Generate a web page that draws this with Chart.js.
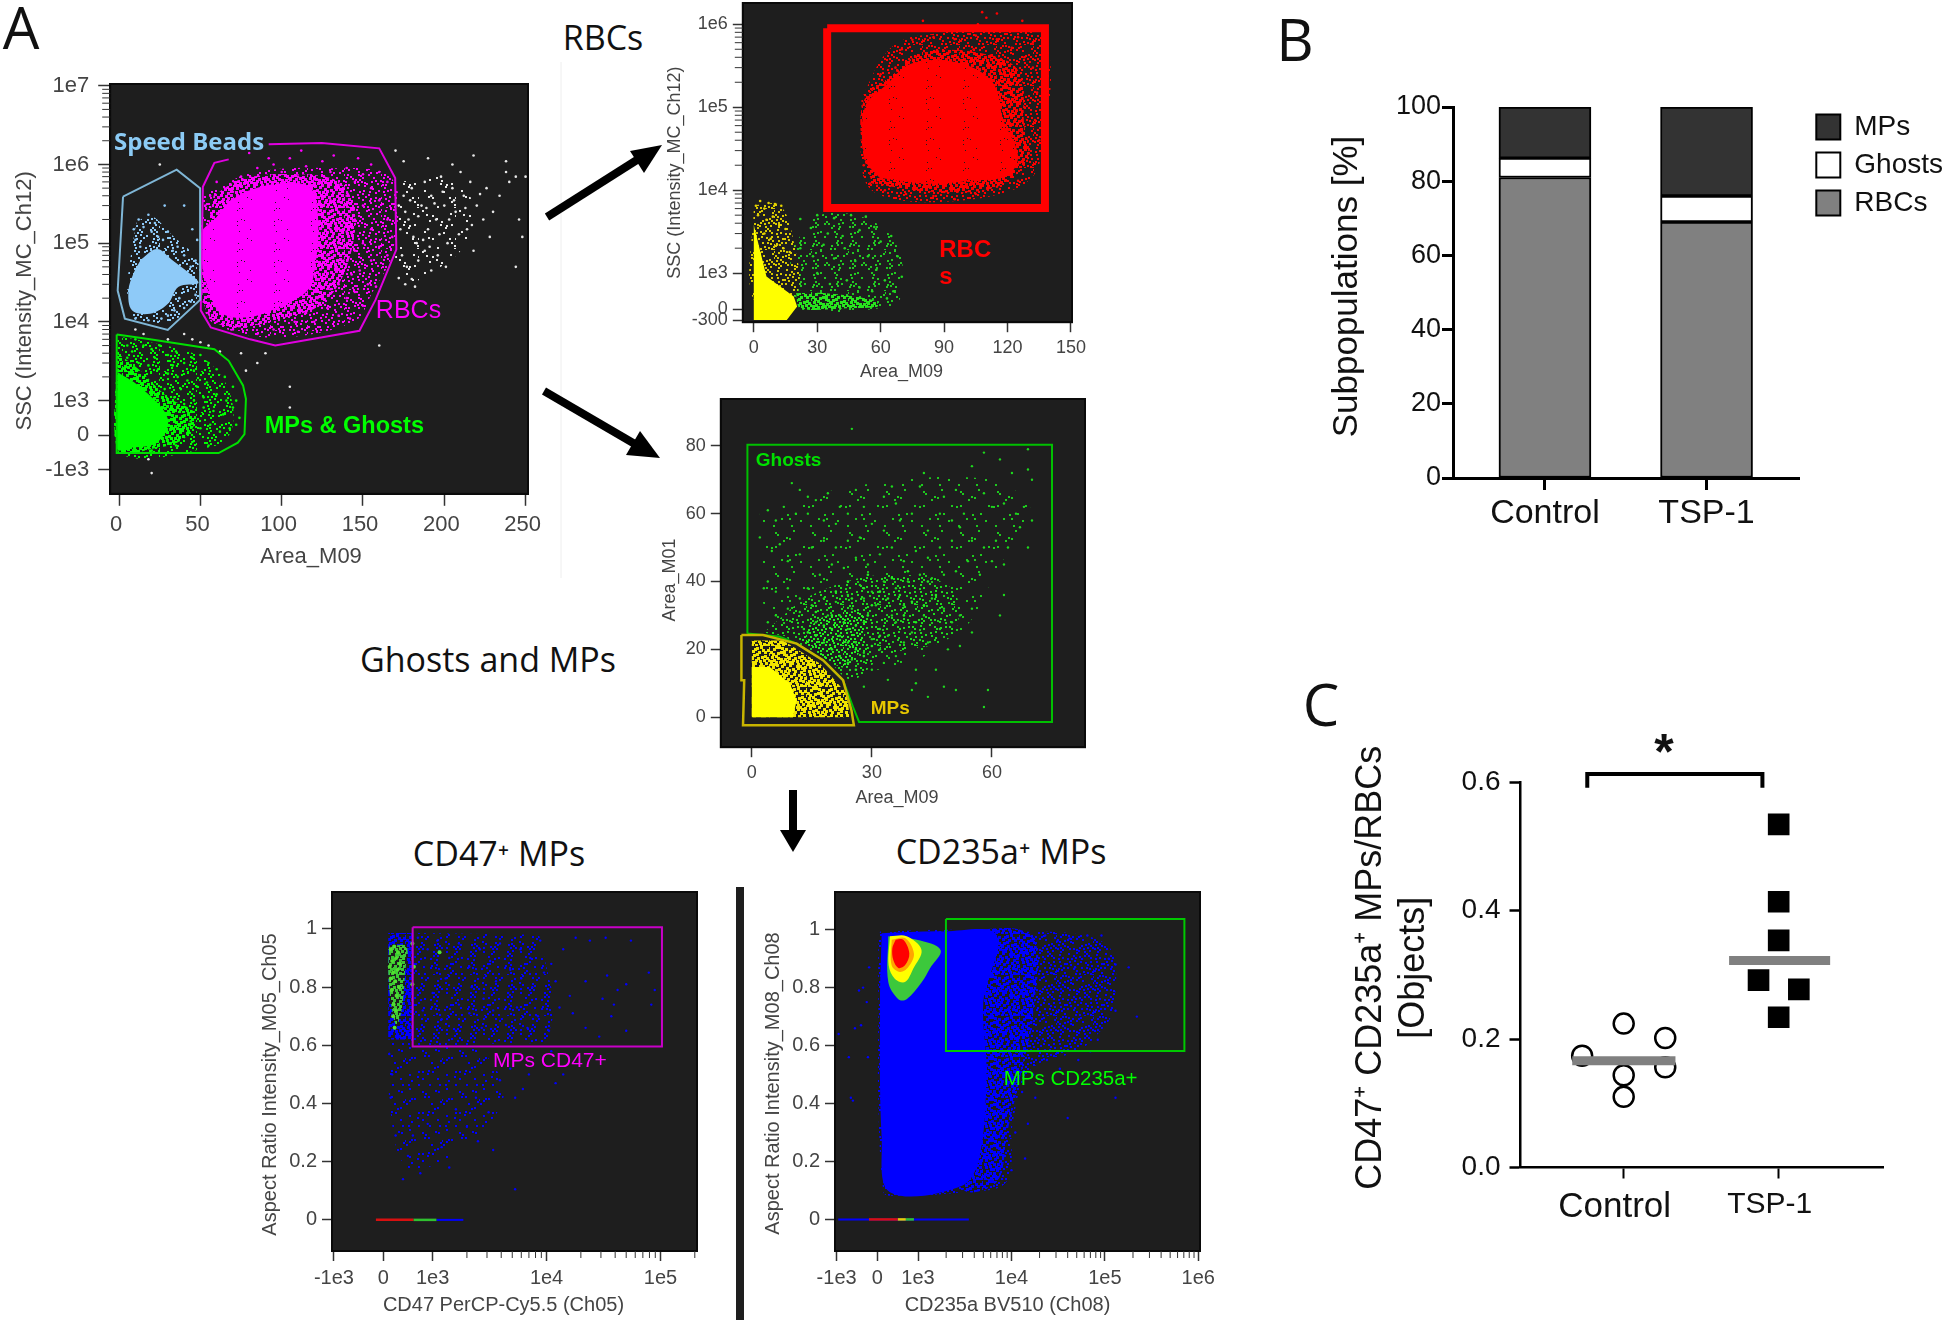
<!DOCTYPE html>
<html>
<head>
<meta charset="utf-8">
<title>Flow cytometry gating and MP subpopulations</title>
<script src="https://cdn.jsdelivr.net/npm/chart.js@4"></script>
<style>
html, body { margin: 0; padding: 0; background: #fff; }
body { position: relative; width: 1946px; height: 1322px; overflow: hidden; }
canvas { position: absolute; }
.cap { position: absolute; font-family: "Open Sans", sans-serif; color: #111; white-space: nowrap; transform: translate(-50%, -50%); }
.letter { font-size: 58px; }
.small { font-size: 34px; }
svg { position: absolute; left: 0; top: 0; }
</style>
</head>
<body>
<div class="cap letter" style="left:21px;top:26px">A</div>
<div class="cap letter" style="left:1295px;top:38px">B</div>
<div class="cap letter" style="left:1321px;top:703px">C</div>
<div class="cap small" style="left:603px;top:37px">RBCs</div>
<div class="cap small" style="left:488px;top:659px">Ghosts and MPs</div>
<div class="cap small" style="left:499px;top:853px">CD47⁺ MPs</div>
<div class="cap small" style="left:1001px;top:851px">CD235a⁺ MPs</div>
<div class="cap" style="left:1664px;top:752px;font:bold 50px 'Liberation Sans'">*</div>
<svg width="1946" height="1322">
  <line x1="561" y1="62" x2="561" y2="578" stroke="#eeeeee" stroke-width="1"/>
  <rect x="736" y="887" width="8" height="433" fill="#1e1e1e"/>
  <line x1="547" y1="217" x2="640" y2="158" stroke="#000" stroke-width="8"/>
  <polygon points="662,145 644,173 630,151" fill="#000"/>
  <line x1="544" y1="391" x2="640" y2="447" stroke="#000" stroke-width="8"/>
  <polygon points="660,458 640,431 626,455" fill="#000"/>
  <rect x="789" y="790" width="8" height="42" fill="#000"/>
  <polygon points="793,852 780,830 806,830" fill="#000"/>
</svg>

<script>
// panel B
const barCategories = ['Control', 'TSP-1'];
const rbcPercent = [81, 69];
const ghostPercent = [5.2, 7];
const mpPercent = [13.8, 24];

// panel C
const controlRatios = [[0, 0.224], [0.268, 0.2015], [-0.268, 0.174], [0.268, 0.156], [0, 0.1436], [0, 0.11]];
const tspRatios = [[0, 0.534], [0, 0.4136], [0, 0.3534], [-0.13, 0.2917], [0.13, 0.2772], [0, 0.2338]];
const controlMean = 0.166;
const tspMean = 0.322;

// panel A, first plot: gates
const beadGate = [[2.4,3.9e5],[35.4,8.6e5],[49.8,5e5],[49.8,1.9e4],[29.9,7.9e3],[3.5,1.1e4],[-0.9,2.5e4],[2.4,3.9e5]];
const rbcGate = [[67.4,1.16e6],[58.6,1.05e6],[51.5,5.2e5],[50.2,1.4e4],[56.4,8.5e3],[80.6,6e3],[96,5e3],[147.8,7.7e3],[157.7,1.9e4],[170.5,8.3e4],[169.8,6.7e5],[160,1.6e6],[124.7,1.87e6],[92,1.8e6]];
const mpGhostGate = [[-1.5,6.9e3],[19,6e3],[58.6,4.5e3],[67.4,3.2e3],[76.2,1.56e3],[78,1.05e3],[77.1,30],[73,-220],[61.2,-520],[-1.5,-520],[-1.5,6.9e3]];
// dense areas
const rbcCore = [[67.4,3.4e5],[80.6,4.75e5],[102.6,5.8e5],[118,5e5],[122.5,1.85e5],[120.3,4.6e4],[115.9,2.5e4],[102.6,1.7e4],[80.6,1.15e4],[63,1.27e4],[56.4,2.1e4],[50.9,5.6e4],[50.9,1.4e5],[58.6,2e5]];
const rbcMid = [[58,4e5],[75,6.5e5],[110,7.5e5],[135,6e5],[145,2.5e5],[140,5e4],[125,1.7e4],[100,1.1e4],[70,8.5e3],[55,1.2e4],[51,4e4]];
const rbcHaze = [[60.8,5e5],[80.6,7.8e5],[124.7,9e5],[167.6,6.7e5],[168.7,8.3e4],[155.4,2.3e4],[144.4,1e4],[96,6.3e3],[58.6,9.4e3],[52,1.7e4],[52,4.1e5]];
const beadCore = [[13.4,6.2e4],[23.3,8.4e4],[32.2,6.2e4],[45.4,3.8e4],[48.7,3.1e4],[36.6,2.8e4],[30,1.7e4],[19,1.27e4],[7.9,1.4e4],[5.7,2.5e4],[9,4.2e4]];
const beadHaze = [[11,1.9e5],[20,2.2e5],[32,1.3e5],[48,6e4],[49,2e4],[30,1e4],[8,1.2e4],[5,2.5e4],[8,9e4]];
const mpCore = [[-0.9,2.3e3],[14.5,1.4e3],[30,466],[23.3,-220],[5.7,-370],[-0.9,-420]];
const mpMid = [[-1,4e3],[12,2.5e3],[30,1.1e3],[47,600],[40,-100],[20,-400],[-1,-450]];
const mpHaze = [[-1,6.5e3],[19,5.5e3],[50,3.6e3],[66,1.6e3],[70,300],[60,-300],[-1,-450]];
const scatterHaze = [[172,6e5],[200,7e5],[215,5e5],[213,1e5],[190,4e4],[172,3e4]];
// single events
const beadDots = [[12,2e5],[15,1.6e5],[18,2.3e5],[20,1.4e5],[22,1.8e5],[24,1.2e5],[27,1.1e5],[30,1.4e5],[33,8e4],[36,9e4],[40,7e4],[44,5e4],[47,6e4],[48,1.1e5],[40,3e5],[28,3e5],[45,1.5e5],[10,1.1e5],[13,9e4],[9,1.5e5],[37,2e4],[40,1.5e4],[44,1.8e4],[34,1.4e4],[30,1.2e4],[26,1.1e4],[18,1.05e4],[10,1.1e4],[47,2.2e4]];
const rbcDots = [[60,6e5],[70,4.5e5],[75,7e5],[85,9e5],[90,6.5e5],[95,1e6],[100,8e5],[105,1.2e6],[110,7e5],[115,9.5e5],[120,6.5e5],[125,1.1e6],[130,8e5],[135,5.5e5],[140,9e5],[145,6e5],[150,7.5e5],[155,5e5],[160,8e5],[165,6e5],[130,3.5e5],[135,2.5e5],[140,4e5],[145,2e5],[150,3e5],[155,1.5e5],[160,3.5e5],[165,2e5],[168,1.2e5],[130,1.5e5],[135,1e5],[140,1.4e5],[145,8e4],[150,1e5],[155,6e4],[160,9e4],[165,7e4],[128,7e4],[133,5e4],[138,6e4],[143,4e4],[148,4.5e4],[153,3e4],[158,2.8e4],[125,3.5e4],[130,2.6e4],[135,3e4],[140,2e4],[145,2.4e4],[150,1.6e4],[122,2e4],[128,1.5e4],[135,1.2e4],[142,1.1e4],[115,1.3e4],[120,1e4],[108,1e4],[110,7.5e3],[95,8e3],[85,7e3],[70,8e3],[60,1e4],[55,1.3e4],[52,1.8e4],[53,3e5],[56,4e5],[65,3e5],[92,1.2e6],[112,1.5e6],[80,1.4e6],[132,1.3e6],[147,1.2e6],[155,1e6]];
const scatterDots = [[172,3e5],[175,4e5],[178,2e5],[180,5e5],[183,1e5],[186,3e5],[188,6e5],[190,1.5e5],[192,4e5],[195,2e5],[198,7e5],[200,3e5],[202,1e5],[205,5e5],[207,2.5e5],[210,8e5],[212,4e5],[214,1.5e5],[216,6e5],[220,3e5],[224,2e5],[226,5e5],[230,2.5e5],[234,4e5],[238,8e5],[240,6e5],[244,7e5],[246,2e5],[250,7e5],[174,7e4],[177,5e4],[180,3.5e4],[184,6e4],[188,8e4],[192,4.5e4],[196,7e4],[201,5e4],[218,8e4],[228,1.2e5],[244,5e4],[248,1.2e5],[173,1.5e5],[176,2.5e5],[179,3.5e5],[181,1.2e5],[184,2.2e5],[187,1.1e5],[189,2.8e5],[191,9e4],[194,3.2e5],[197,1.3e5],[199,4.5e5],[203,2e5],[206,3.5e5],[209,1.3e5],[213,2.8e5],[217,1.7e5],[222,4.2e5],[172,3.6e4],[176,3e4],[182,2.8e4],[170,1.5e6],[175,1.1e6],[190,1.2e6],[205,1e6],[218,1.3e6],[238,1.1e6],[18,-700],[20,-1100],[105,1.5e3],[105,800],[160,5e3],[40,7e3],[10,8e3],[15,7e3],[30,6e3],[45,6e3],[50,5.5e3],[55,5e3],[62,4.2e3],[75,4e3],[85,3e3],[78,2.4e3],[25,1e6],[90,4e3]];
const mpGhostDots = [[5,5e3],[10,6e3],[15,5e3],[20,4.5e3],[25,5e3],[30,3.8e3],[35,4.2e3],[40,3e3],[45,3.5e3],[50,3.8e3],[55,3e3],[60,2.5e3],[65,2e3],[70,1.5e3],[72,1e3],[5,3.5e3],[12,3e3],[18,2.8e3],[24,2.5e3],[30,2.2e3],[36,2e3],[42,1.8e3],[48,1.5e3],[54,1.7e3],[60,1.2e3],[28,1.4e3],[34,1.1e3],[40,900],[46,1e3],[52,800],[58,700],[64,600],[70,800],[72,300],[68,200],[62,100],[56,300],[50,200],[44,400],[38,100],[32,-100],[28,500],[35,-300],[45,-200],[55,-300],[20,-450],[8,4.2e3],[22,3.5e3],[33,2.8e3],[46,2.4e3],[38,1.4e3],[52,1.1e3],[66,1e3],[74,500]];

// panel A, RBC plot
const rbcBoxGate = [[34.7,8.95e5],[137.7,8.95e5],[137.7,6.1e3],[34.7,6.1e3],[34.7,8.95e5]];
const redCore = [[59.6,1.4e4],[52.5,2.4e4],[52.5,1e5],[62,1.8e5],[75,3.4e5],[97.5,3.4e5],[113,2e5],[118,7e4],[125,2.6e4],[120,1.5e4],[103.8,1.3e4],[81.7,1.2e4]];
const redMid = [[56,1.2e4],[51.5,3e4],[52,1.2e5],[66,2.5e5],[80,4.5e5],[105,4.6e5],[125,2.8e5],[128,6e4],[130,2.5e4],[115,1.1e4],[85,9.5e3]];
const redHaze = [[50.9,1.26e5],[62.8,4.6e5],[77,7.2e5],[135.3,7.2e5],[135.3,2.2e4],[124.3,1.05e4],[88,7.2e3],[59.6,8.7e3],[51.7,1.5e4]];
const redDots = [[70,5e5],[75,6.5e5],[85,7e5],[95,6.6e5],[105,7.3e5],[115,6.6e5],[125,7e5],[132,6e5],[128,4e5],[120,3.5e5],[132,3e5],[125,2e5],[118,2.5e5],[134,1.5e5],[128,1e5],[121,8e4],[133,7e4],[127,5e4],[135,4e4],[130,2.8e4],[125,1.3e4],[115,1.1e4],[105,9e3],[95,7.8e3],[85,8.5e3],[72,9e3],[62,1e4],[55,1.2e4],[52,4e4],[53,8e4],[52,2e4],[90,9.5e3],[100,1.1e4],[60,2.5e5],[67,3e5],[72,3.5e5],[110,1.2e6],[108,1.4e6],[115,1.35e6],[127,1.1e6],[80,1.1e6],[106,1e6],[92,4.5e5],[104,5e5],[112,4.2e5],[122,5.2e5]];
const lowYellowCore = [[0,3.8e3],[6,907],[18.9,352],[20.5,74],[15.6,-296],[0,-296]];
const lowYellowHaze = [[0,6.6e3],[12.3,6.6e3],[18.6,2.6e3],[20.2,444],[0,259]];
const lowGreenCore = [[20,444],[34,444],[56,259],[59,80],[44,30],[22,30]];
const lowGreenHaze = [[17,1.8e3],[31.2,5e3],[56.5,4.2e3],[69,1.8e3],[69,259],[59.6,28],[24.9,-65],[18.6,444]];
const lowGreenDots = [[22,4.5e3],[27,3.5e3],[30,5e3],[35,3e3],[38,4.6e3],[42,2.8e3],[46,5e3],[50,3.3e3],[53,4.8e3],[57,3.6e3],[60,2.4e3],[65,2.8e3],[68,1.6e3],[70,900],[22,2e3],[28,1.6e3],[33,2.2e3],[38,1.5e3],[43,2e3],[48,1.4e3],[54,1.6e3],[58,1.1e3],[62,800],[66,500],[30,1e3],[36,700],[44,800],[50,600],[56,500],[63,300]];
const lowYellowDots = [[1,6.5e3],[3,7.4e3],[5,6e3],[7,7e3],[10,6.8e3],[13,6.5e3],[2,5e3],[6,4.4e3],[9,4.8e3],[12,3.8e3],[15,3.4e3],[5,3e3],[8,2.6e3],[11,2.2e3],[14,2e3],[17,1.8e3]];

// panel A, Area_M01 plot
const ghostGate = [[-1.1,24.7],[-1.1,80.3],[75,80.3],[75,-1.4],[26.8,-1.4],[25.3,3],[22.8,10.9],[17.8,16.8],[11.2,21.7],[7,23.7],[2.8,24.2],[-1.1,24.7]];
const mpGate = [[-2.6,24.2],[2.8,24.2],[11.2,21.7],[17.8,16.8],[22.8,10.9],[24.9,2],[25.5,-2.4],[-2.2,-2.4],[-1.9,10.9],[-2.6,10.9],[-2.6,24.2]];
const mpYellowCore = [[0,14.8],[4.5,14.8],[9.5,9.9],[11.2,5],[10.3,0],[0,0]];
const mpYellowHaze = [[0,22.6],[7.8,22.6],[17,15.8],[23.7,7],[24.5,0],[0,0]];
const ghostDense = [[12,23.1],[17.8,29.5],[27.8,30.5],[27.8,21.7],[23.7,14.8],[20.3,15.8],[14.5,20.7]];
const ghostHaze = [[3,25],[15,36],[33,42],[50,38],[50,24],[33,18],[25,11],[18,18],[11,23]];
const ghostWide = [[2,60],[25,68],[60,70],[70,60],[62,45],[52,25],[30,14],[5,28]];
const ghostDots = [[4,61],[6,58],[2,53],[5,49],[10,69],[12,67],[14,65],[16,64],[19,66],[22,62],[26,67],[8,62],[11,60],[14,60],[18,58],[21,57],[24,60],[28,62],[33,65],[36,63],[35,68],[43,72],[42,68],[48,65],[51,67],[55,74],[58,78],[62,76],[65,72],[69,79],[69,73],[70,70],[60,62],[63,63],[66,60],[68,62],[70,58],[58,66],[53,60],[50,58],[47,60],[44,55],[40,60],[37,58],[33,55],[30,57],[27,53],[24,52],[21,50],[18,52],[15,50],[12,48],[9,46],[7,51],[4,40],[3,38],[6,37],[9,38],[12,35],[14,38],[17,42],[20,45],[23,44],[26,47],[29,45],[32,48],[35,50],[38,46],[41,49],[44,47],[47,50],[50,52],[52,56],[55,52],[58,50],[61,52],[64,50],[67,56],[69,50],[63,45],[60,46],[57,42],[54,46],[51,43],[48,42],[45,41],[42,42],[39,40],[36,38],[33,40],[30,37],[27,39],[24,36],[21,34],[18,35],[15,33],[12,31],[9,32],[6,30],[4,28],[52,30],[55,25],[48,32],[50,28],[45,35],[43,30],[40,25],[47,26],[44,22],[49,20],[52,21],[38,22],[36,18],[33,16],[30,14],[28,9],[34,11],[40,8],[41,10],[44,6],[48,9],[51,8],[58,3],[59,8],[46,14],[41,14],[63,36],[62,30],[55,32],[38,33],[35,30],[31,33],[28,35],[25,32],[22,30],[19,30],[16,28],[13,26],[28,28],[32,26],[36,28],[24,26],[26,22],[30,23],[34,24],[28,19],[32,20],[25,17],[25,85]];
const ghostDenseDots = [[14,25],[16,24],[18,22],[20,20],[22,18],[24,16],[26,14],[18,27],[20,26],[22,24],[24,22],[26,20],[28,18],[30,21],[32,24],[20,30],[23,28],[26,27],[29,30],[16,31],[30,33],[34,35],[37,36],[40,34],[43,33],[46,36],[38,30],[41,28],[25,35],[21,37],[28,38],[32,37],[35,41],[29,42],[24,40],[39,43],[44,40]];

// panel A, CD47 plot
const cd47Gate = [[595,1.006],[1.03e5,1.006],[1.03e5,0.596],[595,0.596],[595,1.006]];
const cd47Strip = [[100,0.986],[608,0.986],[608,0.62],[100,0.62]];
const cd47Cluster = [[120,0.94],[470,0.94],[440,0.85],[380,0.73],[270,0.67],[170,0.73],[100,0.85]];
const cd47Tail = [[135,0.62],[2e3,0.62],[4.2e3,0.424],[1.42e3,0.218],[473,0.183],[135,0.39]];
const cd47Haze = [[608,0.986],[8.6e3,0.98],[1.2e4,0.734],[1e4,0.608],[608,0.602]];
const cd47Dots = [[700,0.97],[900,0.93],[1.1e3,0.96],[1.4e3,0.9],[1.7e3,0.95],[2.1e3,0.87],[2.6e3,0.93],[3.2e3,0.89],[3.9e3,0.95],[4.8e3,0.86],[5.9e3,0.93],[7.2e3,0.9],[8.8e3,0.96],[1.1e4,0.88],[1.4e4,0.93],[1.8e4,0.97],[2.4e4,0.96],[3.3e4,0.97],[5.5e4,0.96],[7.9e4,0.85],[8.9e4,0.79],[8.3e4,0.74],[5e4,0.81],[3.4e4,0.84],[4.2e4,0.79],[3.1e4,0.76],[2.2e4,0.82],[1.6e4,0.77],[1.2e4,0.82],[9.5e3,0.85],[7.5e3,0.8],[6e3,0.83],[4.6e3,0.78],[3.6e3,0.82],[2.8e3,0.76],[2.2e3,0.8],[1.7e3,0.74],[1.3e3,0.83],[1e3,0.78],[800,0.72],[1.2e3,0.69],[1.6e3,0.65],[2.1e3,0.71],[2.7e3,0.66],[3.4e3,0.72],[4.4e3,0.67],[5.5e3,0.73],[6.8e3,0.66],[8.4e3,0.7],[1.05e4,0.65],[1.3e4,0.73],[1.7e4,0.71],[2.2e4,0.66],[2.9e4,0.63],[3.7e4,0.7],[5e4,0.65],[3.9e4,0.74],[1.1e4,0.58],[1.4e4,0.5],[1.2e4,0.47],[6.2e3,0.45],[7e3,0.5],[4.8e3,0.52],[5.3e3,0.42],[3.9e3,0.48],[3.1e3,0.37],[2.4e3,0.42],[2e3,0.32],[1.6e3,0.38],[2.5e3,0.27],[3.4e3,0.24],[1.2e3,0.25],[900,0.33],[600,0.29],[500,0.22],[750,0.16],[1.4e3,0.18],[5.3e3,0.105],[400,0.14],[250,0.29],[150,0.42],[120,0.57],[180,0.5]];
const cd47GreenDots = [[150,0.93],[220,0.94],[300,0.92],[180,0.89],[260,0.9],[340,0.88],[130,0.87],[200,0.85],[290,0.86],[150,0.83],[240,0.82],[320,0.8],[170,0.79],[270,0.77],[210,0.74],[260,0.72],[200,0.7],[230,0.66],[590,0.95],[620,0.87],[1.15e3,0.92],[590,0.81]];
const cd47ZeroBlue = [[1.08e3,0],[1.86e3,0]];
const cd47ZeroGreen = [[610,0],[1.08e3,0]];
const cd47ZeroRed = [[-150,0],[610,0]];

// panel A, CD235a plot
const cd235Gate = [[1990,1.037],[7.1e5,1.037],[7.1e5,0.581],[1990,0.581],[1990,1.037]];
const cd235Solid = [[107,0.988],[1860,0.994],[6.9e3,0.982],[5e3,0.749],[5.4e3,0.515],[4.6e3,0.222],[3e3,0.117],[311,0.094],[107,0.281],[66,0.749]];
const cd235Mid = [[1860,0.99],[1.6e4,0.98],[1.7e4,0.7],[1.3e4,0.52],[9e3,0.3],[7e3,0.13],[3e3,0.11]];
const cd235Haze = [[66,0.994],[1860,1],[1.13e4,0.994],[5.8e4,0.982],[1.2e5,0.924],[1.2e5,0.713],[8e4,0.632],[5.4e4,0.585],[1.57e4,0.515],[1.04e4,0.339],[8.8e3,0.129],[3e3,0.094],[311,0.082],[150,0.094],[25,0.398],[25,0.749],[25,0.936]];
const cd235Green = [[270,0.977],[970,0.965],[1745,0.93],[1340,0.866],[1100,0.819],[721,0.76],[516,0.76],[270,0.819]];
const cd235Yellow = [[311,0.977],[721,0.977],[1090,0.93],[885,0.866],[680,0.819],[434,0.83],[279,0.877]];
const cd235Orange = [[352,0.965],[680,0.971],[900,0.918],[762,0.871],[557,0.854],[352,0.877]];
const cd235Red = [[451,0.965],[639,0.965],[787,0.918],[680,0.877],[516,0.868],[393,0.895],[369,0.936]];
const cd235Dots = [[1.3e4,0.99],[1.7e4,0.97],[2.3e4,0.98],[3.1e4,0.96],[4.2e4,0.97],[6.5e4,0.98],[9.2e4,0.98],[1.1e5,0.9],[1.3e5,0.88],[1.8e5,0.87],[2.2e5,0.7],[1.3e5,0.72],[8.4e4,0.62],[5.2e4,0.55],[3.3e4,0.52],[2.4e4,0.55],[1.7e4,0.5],[1.8e4,0.42],[1.3e4,0.44],[1.5e4,0.33],[1.1e4,0.3],[1.4e4,0.21],[1e4,0.17],[-650,0.42],[-600,0.41],[-700,0.56],[-230,0.56],[-550,0.66],[-400,0.67],[-260,0.75],[-350,0.8],[-450,0.79],[-200,0.87],[-950,0.64],[4e4,0.35],[1.3e5,0.42],[7e4,0.58],[1.2e4,0.6],[2.7e4,0.85],[4.8e4,0.87]];
const cd235ZeroBlue = [[-960,0],[3.5e3,0]];
const cd235ZeroGreen = [[700,0],[900,0]];
const cd235ZeroYellow = [[500,0],[700,0]];
const cd235ZeroRed = [[-205,0],[500,0]];

const decadeSteps = [2, 3, 4, 5, 6, 7, 8, 9];

// speckle texture for the density regions, offsets inside a 37x41 tile
const tileDots = [[3,2],[11,1],[19,4],[27,0],[34,3],[7,6],[15,8],[23,7],[31,9],[1,10],[10,12],[18,11],[26,14],[35,13],[5,15],[13,17],[21,16],[29,19],[2,20],[8,22],[16,21],[24,24],[33,23],[6,26],[12,27],[20,29],[28,28],[36,30],[3,31],[10,33],[17,32],[25,35],[32,34],[0,36],[7,38],[14,37],[22,39],[30,38],[35,40],[4,40],
    [8,0],[15,2],[23,1],[31,5],[0,5],[5,9],[13,4],[20,8],[28,10],[36,7],[3,13],[9,15],[16,14],[24,11],[32,16],[0,17],[11,19],[19,18],[27,21],[34,20],[5,23],[14,24],[22,22],[30,25],[2,27],[9,29],[17,26],[25,31],[33,27],[6,33],[13,30],[21,34],[29,33],[36,35],[1,34],[11,36],[18,39],[26,37],[33,39],[8,40],
    [5,0],[13,7],[21,2],[29,3],[36,1],[2,7],[10,5],[17,10],[25,5],[33,11],[7,11],[14,12],[22,13],[30,13],[0,14],[6,18],[12,14],[19,15],[27,17],[36,18],[3,17],[10,24],[18,23],[26,19],[31,21],[1,24],[7,29],[15,28],[23,27],[30,30],[4,35],[12,39],[19,36],[27,40],[35,37],[9,36],[16,34],[24,33],[34,31],[1,39]];

function stipple(color, n, size, holes) {
    const tile = document.createElement('canvas');
    tile.width = 37;
    tile.height = 41;
    const c = tile.getContext('2d');
    if (holes) {
        c.fillStyle = color;
        c.fillRect(0, 0, 37, 41);
    }
    c.fillStyle = holes ? '#1e1e1e' : color;
    // take the offsets evenly along the list so small counts do not leave bands
    for (let i = 0; i < n; i++) {
        const p = tileDots[Math.floor(i * tileDots.length / n)];
        c.fillRect(p[0], p[1], size, size);
    }
    return c.createPattern(tile, 'repeat');
}

// the cytometer axes are linear up to 1e3, log above
function biex(v, k) {
    return v <= 1000 ? v / 1000 : 1 + k * Math.log10(v / 1000);
}

function minorsOf(decades, k) {
    const out = [];
    decades.forEach(d => decadeSteps.forEach(s => out.push(biex(d * s, k))));
    return out;
}

function addCanvas(left, top, right, bottom) {
    const c = document.createElement('canvas');
    c.width = Math.round(right - left);
    c.height = Math.round(bottom - top);
    c.style.left = left + 'px';
    c.style.top = top + 'px';
    document.body.appendChild(c);
    return c;
}

// moves the native axis title, the source titles are not centred on the axis
function shiftTitle(scale, dx, dy) {
    if (scale.shifted) return;
    scale.shifted = true;
    const orig = scale.drawTitle;
    scale.drawTitle = function() {
        const ctx = scale.ctx;
        ctx.save();
        ctx.translate(dx, dy);
        orig.call(scale);
        ctx.restore();
    };
}

function frame(conf) {
    return {
        id: 'frame',
        beforeDraw(chart) {
            const { ctx, chartArea: a } = chart;
            ctx.save();
            ctx.fillStyle = '#1e1e1e';
            ctx.fillRect(a.left, a.top, a.right - a.left, a.bottom - a.top);
            ctx.restore();
        },
        afterDraw(chart) {
            const { ctx, chartArea: a, scales } = chart;
            ctx.save();
            ctx.strokeStyle = '#0a0a0a';
            ctx.lineWidth = 2;
            ctx.strokeRect(a.left, a.top, a.right - a.left, a.bottom - a.top);
            ctx.strokeStyle = '#333';
            ctx.lineWidth = 1;
            (conf.minorX || []).forEach(v => {
                const x = scales.x.getPixelForValue(v);
                ctx.beginPath(); ctx.moveTo(x, a.bottom); ctx.lineTo(x, a.bottom + 7); ctx.stroke();
            });
            (conf.minorY || []).forEach(v => {
                const y = scales.y.getPixelForValue(v);
                ctx.beginPath(); ctx.moveTo(a.left, y); ctx.lineTo(a.left - 8, y); ctx.stroke();
            });
            (conf.labels || []).forEach(l => {
                ctx.font = l.font;
                ctx.fillStyle = l.color;
                ctx.textAlign = l.align || 'center';
                ctx.textBaseline = 'middle';
                ctx.fillText(l.text, scales.x.getPixelForValue(conf.tx(l.x)), scales.y.getPixelForValue(conf.ty(l.y)));
            });
            ctx.restore();
        }
    };
}

function flowPlot(conf) {
    const a = conf.area, pad = 40, fs = conf.fontSize;
    const canvas = addCanvas(conf.yTitleX - 0.6 * fs, a.top - pad, a.right + pad, conf.xTitleY + 0.6 * fs);
    const font = { family: 'Liberation Sans', size: fs };
    const axisBits = {
        grid: { drawOnChartArea: false, tickLength: conf.tickLen, tickColor: '#333', tickWidth: 1.5 },
        border: { color: '#0a0a0a', width: 2 },
        title: { display: true, font: font, color: '#444', padding: 0 }
    };
    const datasets = conf.sets.map(s => {
        const pts = s.fill ? s.pts.concat([s.pts[0]]) : s.pts;
        const d = {
            data: pts.map(p => ({ x: conf.tx(p[0]), y: conf.ty(p[1]) })),
            pointRadius: 0,
            borderWidth: 0,
            showLine: false
        };
        if (s.fill) {
            d.showLine = true;
            d.fill = 'shape';
            d.backgroundColor = s.fill;
            d.borderColor = 'transparent';
            d.tension = s.sharp ? 0 : 0.35;
        }
        if (s.line) { d.showLine = true; d.borderColor = s.line; d.borderWidth = s.width || 2; d.borderJoinStyle = 'miter'; d.fill = false; }
        if (s.dot) { d.pointRadius = s.r || 1.3; d.pointBackgroundColor = s.dot; d.pointBorderWidth = 0; }
        return d;
    });
    return new Chart(canvas, {
        type: 'scatter',
        data: { datasets: datasets },
        options: {
            responsive: false,
            animation: false,
            layout: { padding: { top: pad, right: pad } },
            plugins: { legend: { display: false }, tooltip: { enabled: false } },
            scales: {
                x: Object.assign({}, axisBits, {
                    type: 'linear', min: conf.xMin, max: conf.xMax,
                    title: Object.assign({}, axisBits.title, { text: conf.xTitle }),
                    afterBuildTicks: s => { s.ticks = conf.xTicks.map(v => ({ value: conf.tx(v) })); },
                    afterFit: s => { s.height = conf.xTitleY + 0.6 * fs - a.bottom; shiftTitle(s, conf.xTitleDx, 0); },
                    ticks: { font: font, color: '#444', padding: conf.xPad, labelOffset: conf.xLabelDx || 0, autoSkip: false, maxRotation: 0, callback: (v, i) => conf.xLabels[i] }
                }),
                y: Object.assign({}, axisBits, {
                    type: 'linear', min: conf.yMin, max: conf.yMax,
                    title: Object.assign({}, axisBits.title, { text: conf.yTitle }),
                    afterBuildTicks: s => { s.ticks = conf.yTicks.map(v => ({ value: conf.ty(v) })); },
                    afterFit: s => { s.width = a.left - (conf.yTitleX - 0.6 * fs); shiftTitle(s, 0, conf.yTitleDy); },
                    ticks: { font: font, color: '#444', padding: conf.yPad, autoSkip: false, callback: (v, i) => conf.yLabels[i] }
                })
            }
        },
        plugins: [frame(conf)]
    });
}

const same = v => v;

flowPlot({
    area: { left: 110, right: 527.5, top: 83.6, bottom: 493 },
    yTitleX: 25, xTitleY: 556, xTitleDx: -8, yTitleDy: 12, fontSize: 22, tickLen: 12, xPad: 6, yPad: 9, xLabelDx: -3,
    xMin: -5.5, xMax: 251.5, yMin: -1.7, yMax: 10.17,
    tx: same, ty: v => biex(v, 2.28),
    xTicks: [0, 50, 100, 150, 200, 250], xLabels: ['0', '50', '100', '150', '200', '250'],
    yTicks: [1e7, 1e6, 1e5, 1e4, 1e3, 0, -1e3], yLabels: ['1e7', '1e6', '1e5', '1e4', '1e3', '0', '-1e3'],
    minorY: minorsOf([1e3, 1e4, 1e5, 1e6], 2.28),
    xTitle: 'Area_M09', yTitle: 'SSC (Intensity_MC_Ch12)',
    labels: [
        { text: 'Speed Beads', x: 43, y: 1.85e6, color: '#8ccbf5', font: 'bold 24px "Open Sans"' },
        { text: 'RBCs', x: 178, y: 1.37e4, color: '#ff00ff', font: '25px "Liberation Sans"' },
        { text: 'MPs & Ghosts', x: 138.5, y: 252, color: '#00ff00', font: 'bold 23.5px "Liberation Sans"' }
    ],
    sets: [
        { pts: beadGate, line: '#7fb6d6' },
        { pts: rbcGate, line: '#e000e0' },
        { pts: mpGhostGate, line: '#00e000' },
        { pts: scatterDots, dot: '#e8e8e8' },
        { pts: rbcDots, dot: '#ff00ff' },
        { pts: beadDots, dot: '#8ecaf8' },
        { pts: mpGhostDots, dot: '#00ff00' },
        { pts: rbcCore, fill: stipple('#ff00ff', 12, 1, true) },
        { pts: rbcMid, fill: stipple('#ff00ff', 120, 3) },
        { pts: rbcHaze, fill: stipple('#ff00ff', 80, 2) },
        { pts: scatterHaze, fill: stipple('#e8e8e8', 22, 2) },
        { pts: beadCore, fill: '#8ecaf8' },
        { pts: beadHaze, fill: stipple('#8ecaf8', 70, 2) },
        { pts: mpCore, fill: '#00ff00' },
        { pts: mpMid, fill: stipple('#00ff00', 120, 3) },
        { pts: mpHaze, fill: stipple('#00ff00', 70, 2) }
    ]
});

flowPlot({
    area: { left: 743, right: 1072, top: 3.3, bottom: 322 },
    yTitleX: 675, xTitleY: 372, xTitleDx: -6, yTitleDy: 10, fontSize: 18, tickLen: 10, xPad: 5, yPad: 5,
    xMin: -5.2, xMax: 150.5, yMin: -0.36, yMax: 8.49,
    tx: same, ty: v => biex(v, 2.3),
    xTicks: [0, 30, 60, 90, 120, 150], xLabels: ['0', '30', '60', '90', '120', '150'],
    yTicks: [1e6, 1e5, 1e4, 1e3, 0, -300], yLabels: ['1e6', '1e5', '1e4', '1e3', '0', '-300'],
    minorY: minorsOf([1e3, 1e4, 1e5], 2.3),
    xTitle: 'Area_M09', yTitle: 'SSC (Intensity_MC_Ch12)',
    labels: [
        { text: 'RBC', x: 87.7, y: 1.9e3, color: '#ff0000', font: 'bold 24px "Liberation Sans"', align: 'left' },
        { text: 's', x: 87.7, y: 880, color: '#ff0000', font: 'bold 24px "Liberation Sans"', align: 'left' }
    ],
    sets: [
        { pts: rbcBoxGate, line: '#ff0000', width: 8 },
        { pts: redDots, dot: '#ff0000' },
        { pts: lowGreenDots, dot: '#22d822' },
        { pts: lowYellowDots, dot: '#e6d400' },
        { pts: lowYellowCore, fill: '#ffff00', sharp: true },
        { pts: lowGreenCore, fill: stipple('#28e61e', 120, 3) },
        { pts: lowYellowHaze, fill: stipple('#d8c800', 90, 2) },
        { pts: lowGreenHaze, fill: stipple('#22c822', 50, 2) },
        { pts: redCore, fill: stipple('#ff0000', 12, 1, true) },
        { pts: redMid, fill: stipple('#ff0000', 120, 3) },
        { pts: redHaze, fill: stipple('#ff0000', 90, 2) }
    ]
});

flowPlot({
    area: { left: 721, right: 1085, top: 399, bottom: 747 },
    yTitleX: 670, xTitleY: 798, xTitleDx: -6, yTitleDy: 7, fontSize: 18, tickLen: 10, xPad: 5, yPad: 5,
    xMin: -7.75, xMax: 83.25, yMin: -8.85, yMax: 93.8,
    tx: same, ty: same,
    xTicks: [0, 30, 60], xLabels: ['0', '30', '60'],
    yTicks: [80, 60, 40, 20, 0], yLabels: ['80', '60', '40', '20', '0'],
    xTitle: 'Area_M09', yTitle: 'Area_M01',
    labels: [
        { text: 'Ghosts', x: 1, y: 75.6, color: '#00e000', font: 'bold 19px "Liberation Sans"', align: 'left' },
        { text: 'MPs', x: 29.7, y: 2.4, color: '#e8c800', font: 'bold 19px "Liberation Sans"', align: 'left' }
    ],
    sets: [
        { pts: mpGate, line: '#c8b400', width: 2.5 },
        { pts: ghostGate, line: '#00c000', width: 2 },
        { pts: ghostDots, dot: '#1ed81e', r: 1.2 },
        { pts: ghostDenseDots, dot: '#22ee22', r: 1.3 },
        { pts: mpYellowCore, fill: '#ffff00', sharp: true },
        { pts: mpYellowHaze, fill: stipple('#f0e400', 120, 3), sharp: true },
        { pts: ghostDense, fill: stipple('#22ee22', 120, 2) },
        { pts: ghostHaze, fill: stipple('#1ed81e', 60, 2) },
        { pts: ghostWide, fill: stipple('#1ec81e', 16, 2) }
    ]
});

flowPlot({
    area: { left: 332, right: 697, top: 892, bottom: 1251 },
    yTitleX: 270, xTitleY: 1305, xTitleDx: -11, yTitleDy: 13, fontSize: 20, tickLen: 10, xPad: 5, yPad: 5,
    xMin: -1.04, xMax: 6.36, yMin: -0.107, yMax: 1.127,
    tx: v => biex(v, 2.31), ty: same,
    xTicks: [-1e3, 0, 1e3, 1e4, 1e5], xLabels: ['-1e3', '0', '1e3', '1e4', '1e5'],
    yTicks: [1, 0.8, 0.6, 0.4, 0.2, 0], yLabels: ['1', '0.8', '0.6', '0.4', '0.2', '0'],
    minorX: minorsOf([1e3, 1e4], 2.31).concat([biex(2e5, 2.31)]),
    xTitle: 'CD47 PerCP-Cy5.5 (Ch05)', yTitle: 'Aspect Ratio Intensity_M05_Ch05',
    labels: [{ text: 'MPs CD47+', x: 1.07e4, y: 0.545, color: '#ff00ff', font: '21px "Liberation Sans"' }],
    sets: [
        { pts: cd47Gate, line: '#c800c8', width: 2 },
        { pts: cd47ZeroRed, line: '#d81010', width: 2.5 },
        { pts: cd47ZeroGreen, line: '#30c030', width: 2.5 },
        { pts: cd47ZeroBlue, line: '#0000ff', width: 2 },
        { pts: cd47GreenDots, dot: '#50e030', r: 2 },
        { pts: cd47Dots, dot: '#0000ff', r: 1.2 },
        { pts: cd47Cluster, fill: stipple('#3cc832', 120, 3) },
        { pts: cd47Strip, fill: stipple('#0000ff', 120, 3), sharp: true },
        { pts: cd47Tail, fill: stipple('#0000ff', 30, 2) },
        { pts: cd47Haze, fill: stipple('#0000ff', 55, 2), sharp: true }
    ]
});

flowPlot({
    area: { left: 835, right: 1200, top: 892, bottom: 1251 },
    yTitleX: 773, xTitleY: 1305, xTitleDx: -10, yTitleDy: 12, fontSize: 20, tickLen: 10, xPad: 5, yPad: 5,
    xMin: -1.04, xMax: 7.93, yMin: -0.109, yMax: 1.13,
    tx: v => biex(v, 2.296), ty: same,
    xTicks: [-1e3, 0, 1e3, 1e4, 1e5, 1e6], xLabels: ['-1e3', '0', '1e3', '1e4', '1e5', '1e6'],
    yTicks: [1, 0.8, 0.6, 0.4, 0.2, 0], yLabels: ['1', '0.8', '0.6', '0.4', '0.2', '0'],
    minorX: minorsOf([1e3, 1e4, 1e5], 2.296),
    xTitle: 'CD235a BV510 (Ch08)', yTitle: 'Aspect Ratio Intensity_M08_Ch08',
    labels: [{ text: 'MPs CD235a+', x: 4.3e4, y: 0.483, color: '#00ff00', font: '20.5px "Liberation Sans"' }],
    sets: [
        { pts: cd235Gate, line: '#00c800', width: 2 },
        { pts: cd235ZeroRed, line: '#d81010', width: 2.5 },
        { pts: cd235ZeroYellow, line: '#e8d000', width: 2.5 },
        { pts: cd235ZeroGreen, line: '#30c030', width: 2.5 },
        { pts: cd235ZeroBlue, line: '#0000ff', width: 2 },
        { pts: cd235Dots, dot: '#0000ff', r: 1.2 },
        { pts: cd235Red, fill: '#ff0000' },
        { pts: cd235Orange, fill: '#ffa500' },
        { pts: cd235Yellow, fill: '#ffff00' },
        { pts: cd235Green, fill: '#3cc83c' },
        { pts: cd235Solid, fill: '#0000ff' },
        { pts: cd235Mid, fill: stipple('#0000ff', 120, 3) },
        { pts: cd235Haze, fill: stipple('#0000ff', 90, 2) }
    ]
});

// panel B
new Chart(addCanvas(1323, 87, 1946, 545), {
    type: 'bar',
    data: {
        datasets: [
            { label: 'RBCs', data: rbcPercent.map((v, i) => ({ x: i, y: v })), backgroundColor: '#808080' },
            { label: 'Ghosts', data: ghostPercent.map((v, i) => ({ x: i, y: v })), backgroundColor: '#ffffff' },
            { label: 'MPs', data: mpPercent.map((v, i) => ({ x: i, y: v })), backgroundColor: '#333333' }
        ].map(d => Object.assign(d, { borderColor: '#000', borderWidth: 2, borderSkipped: false, barThickness: 92 }))
    },
    options: {
        responsive: false,
        animation: false,
        layout: { padding: { top: 20 } },
        plugins: {
            tooltip: { enabled: false },
            legend: {
                position: 'right', align: 'start', reverse: true,
                labels: { boxWidth: 24, boxHeight: 25, padding: 10, color: '#111', font: { family: 'Liberation Sans', size: 28 } }
            }
        },
        scales: {
            x: {
                type: 'linear', stacked: true, offset: false, min: -0.569, max: 1.574,
                grid: { offset: false, drawOnChartArea: false, tickLength: 12, tickColor: '#000', tickWidth: 3 },
                border: { color: '#000', width: 3 },
                afterBuildTicks: s => { s.ticks = barCategories.map((c, i) => ({ value: i })); },
                afterFit: s => { s.height = 545 - 478; },
                ticks: { font: { family: 'Liberation Sans', size: 34 }, color: '#111', padding: 3, autoSkip: false, maxRotation: 0, callback: (v, i) => barCategories[i] }
            },
            y: {
                stacked: true, min: 0, max: 100,
                grid: { drawOnChartArea: false, tickLength: 11, tickColor: '#000', tickWidth: 3 },
                border: { color: '#000', width: 3 },
                title: { display: true, text: 'Subpopulations [%]', font: { family: 'Liberation Sans', size: 35 }, color: '#111', padding: 0 },
                afterFit: s => { s.width = 1453 - 1323; shiftTitle(s, 3, -6); },
                ticks: { stepSize: 20, font: { family: 'Liberation Sans', size: 27 }, color: '#111', padding: 1 }
            }
        }
    },
    plugins: [{ id: 'legendNudge', afterLayout: chart => { chart.legend.top -= 4; chart.legend.left += 7; } }]
});

// panel C
new Chart(addCanvas(1349, 740, 1923, 1240), {
    type: 'scatter',
    data: {
        datasets: [
            { data: [{ x: -0.332, y: controlMean }, { x: 0.334, y: controlMean }], showLine: true, borderColor: '#808080', borderWidth: 9, pointRadius: 0 },
            { data: [{ x: 0.68, y: tspMean }, { x: 1.332, y: tspMean }], showLine: true, borderColor: '#808080', borderWidth: 9, pointRadius: 0 },
            { data: [{ x: -0.235, y: 0.591 }, { x: -0.235, y: 0.6123 }, { x: 0.895, y: 0.6123 }, { x: 0.895, y: 0.591 }], showLine: true, borderColor: '#000', borderWidth: 4, borderJoinStyle: 'miter', pointRadius: 0, clip: false },
            { data: controlRatios.map(p => ({ x: p[0], y: p[1] })), pointRadius: 10, pointBorderColor: '#000', pointBorderWidth: 2.5, pointBackgroundColor: 'transparent' },
            { data: tspRatios.map(p => ({ x: 1 + p[0], y: p[1] })), pointStyle: 'rect', pointRadius: 15.3, pointBorderWidth: 0, pointBackgroundColor: '#000' }
        ]
    },
    options: {
        responsive: false,
        animation: false,
        layout: { padding: { top: 42, right: 40 } },
        plugins: { legend: { display: false }, tooltip: { enabled: false } },
        scales: {
            x: {
                type: 'linear', min: -0.669, max: 1.673,
                grid: { drawOnChartArea: false, tickLength: 11, tickColor: '#000', tickWidth: 2 },
                border: { color: '#000', width: 2.5 },
                afterBuildTicks: s => { s.ticks = barCategories.map((c, i) => ({ value: i })); },
                afterFit: s => { s.height = 1240 - 1167.5; },
                ticks: {
                    font: c => ({ family: 'Liberation Sans', size: c.index === 0 ? 35 : 30 }),
                    color: '#111', padding: 8, labelOffset: -9, autoSkip: false, maxRotation: 0,
                    callback: (v, i) => barCategories[i]
                }
            },
            y: {
                min: 0, max: 0.6,
                grid: { drawOnChartArea: false, tickLength: 10.5, tickColor: '#000', tickWidth: 2.5 },
                border: { color: '#000', width: 2.5 },
                title: { display: true, text: ['CD47⁺ CD235a⁺ MPs/RBCs', '[Objects]'], font: { family: 'Liberation Sans', size: 36 }, color: '#111', padding: 0 },
                afterFit: s => { s.width = 1520 - 1349; shiftTitle(s, 0, -7); },
                ticks: { stepSize: 0.2, font: { family: 'Liberation Sans', size: 28 }, color: '#111', padding: 9, callback: v => v.toFixed(1) }
            }
        }
    }
});
</script>
</body>
</html>
